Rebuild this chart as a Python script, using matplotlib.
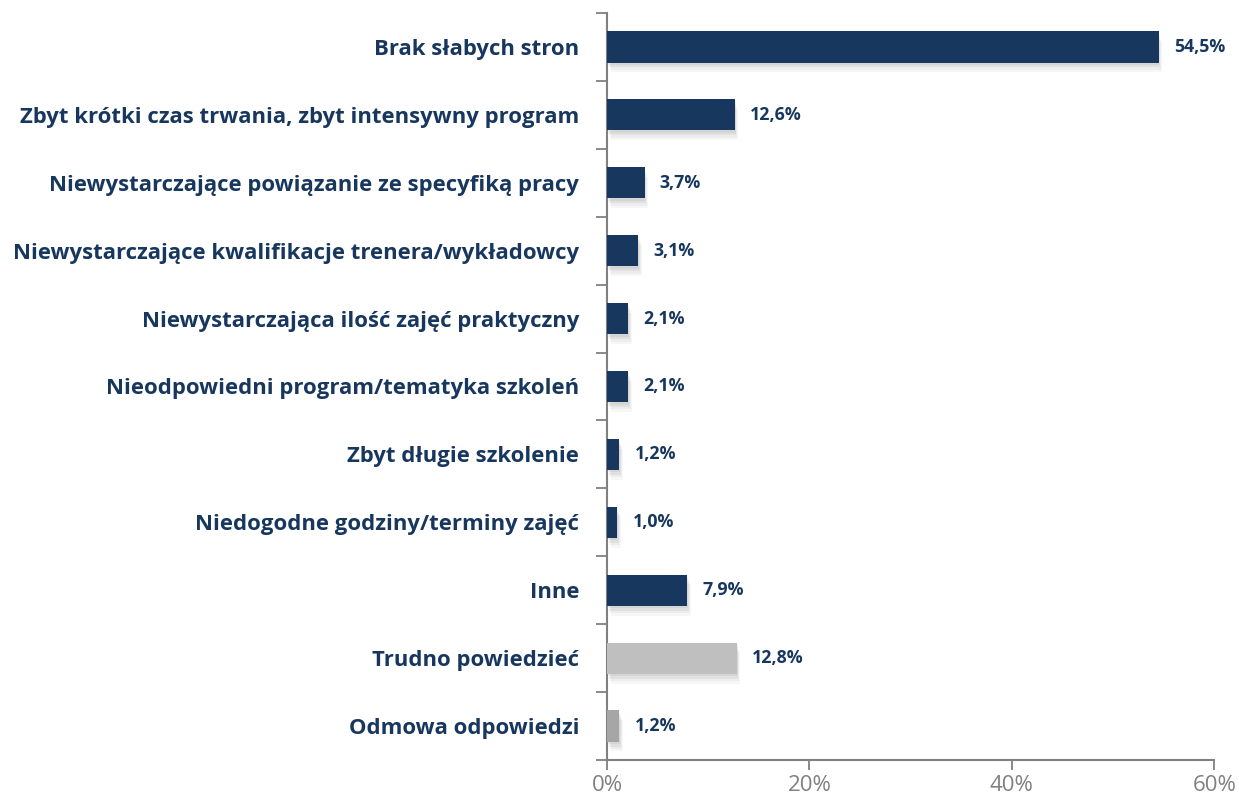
import numpy as np
import matplotlib
matplotlib.use('Agg')
import matplotlib.pyplot as plt

categories = [
    'Brak słabych stron',
    'Zbyt krótki czas trwania, zbyt intensywny program',
    'Niewystarczające powiązanie ze specyfiką pracy',
    'Niewystarczające kwalifikacje trenera/wykładowcy',
    'Niewystarczająca ilość zajęć praktyczny',
    'Nieodpowiedni program/tematyka szkoleń',
    'Zbyt długie szkolenie',
    'Niedogodne godziny/terminy zajęć',
    'Inne',
    'Trudno powiedzieć',
    'Odmowa odpowiedzi',
]
values = [54.5, 12.6, 3.7, 3.1, 2.1, 2.1, 1.2, 1.0, 7.9, 12.8, 1.2]
labels = ['54,5%', '12,6%', '3,7%', '3,1%', '2,1%', '2,1%', '1,2%', '1,0%', '7,9%', '12,8%', '1,2%']
colors = ['#17375E'] * 9 + ['#BFBFBF', '#A6A6A6']

navy = '#17375E'
axis_gray = '#808080'

plt.rcParams['font.family'] = ['Open Sans', 'DejaVu Sans']

fig = plt.figure(figsize=(12.39, 7.99), dpi=100)
ax = fig.add_axes([0.490, 0.0488, 0.490, 0.935])

y = np.arange(len(categories))
h = 0.46

# soft shadow
for k, a in enumerate([0.05, 0.05, 0.04, 0.03]):
    d = 0.03 * (k + 1)
    ax.barh(y + d * 1.2, values, height=h, left=d * 3, color='black', alpha=a, zorder=1)
ax.barh(y, values, height=h, color=colors, zorder=3)

for yi, v, lab in zip(y, values, labels):
    ax.text(v + 1.5, yi, lab, va='center', ha='left', fontsize=12.8,
            fontweight='bold', color=navy, zorder=4)

ax.set_xlim(0, 60)
ax.set_ylim(len(categories) - 0.5, -0.5)
ax.set_xticks([0, 20, 40, 60])
ax.set_xticklabels(['0%', '20%', '40%', '60%'], fontsize=16, color=axis_gray)
ax.set_yticks(y)
ax.set_yticklabels(categories, fontsize=15.9, fontweight='bold', color=navy)
ax.set_yticks(np.arange(-0.5, len(categories), 1), minor=True)
ax.tick_params(axis='y', which='major', length=0, pad=20)
ax.tick_params(axis='y', which='minor', length=8, width=1.3, color=axis_gray)
ax.tick_params(axis='x', length=7, width=1.3, color=axis_gray, pad=4)

for s in ['top', 'right']:
    ax.spines[s].set_visible(False)
for s in ['left', 'bottom']:
    ax.spines[s].set_color(axis_gray)
    ax.spines[s].set_linewidth(1.5)

fig.savefig('out.png', dpi=100, facecolor='white')
